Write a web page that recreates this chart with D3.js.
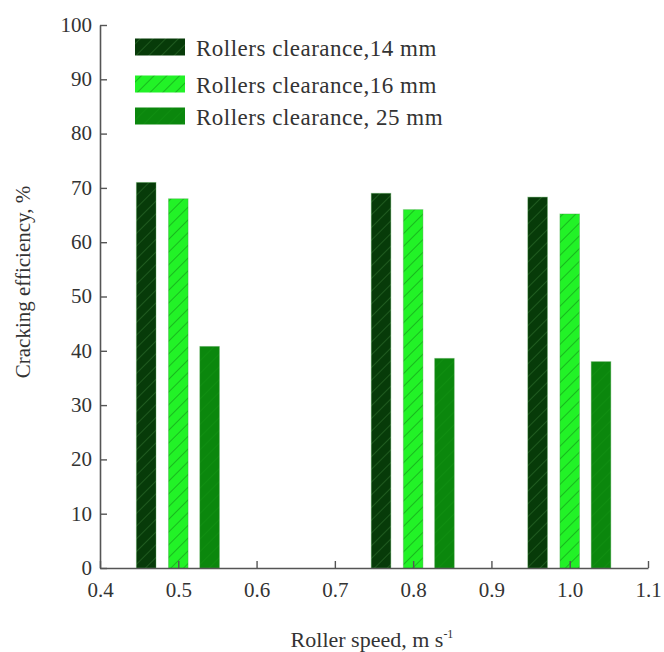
<!DOCTYPE html>
<html>
<head>
<meta charset="utf-8">
<script src="https://cdn.jsdelivr.net/npm/d3@7"></script>
<style>
  body { margin: 0; background: #fff; }
  text { font-family: "Liberation Serif", "DejaVu Serif", serif; fill: #333; }
</style>
</head>
<body>
<div class="chart"></div>
<script>
// data
var speeds = [0.5, 0.8, 1.0];
var seriesNames = ["Rollers clearance,14 mm", "Rollers clearance,16 mm", "Rollers clearance, 25 mm"];
var clearance14 = [71, 69, 68.3];
var clearance16 = [68, 66, 65.2];
var clearance25 = [40.8, 38.6, 38];
var xTicks = [0.4, 0.5, 0.6, 0.7, 0.8, 0.9, 1.0, 1.1];
var yTicks = [0, 10, 20, 30, 40, 50, 60, 70, 80, 90, 100];

var svgWidth = 664;
var svgHeight = 652;

var svg = d3.select(".chart")
  .append("svg")
  .attr("width", svgWidth)
  .attr("height", svgHeight);

// hatch patterns
var defs = svg.append("defs");
function hatch(id, base, line, op) {
  var p = defs.append("pattern")
    .attr("id", id)
    .attr("patternUnits", "userSpaceOnUse")
    .attr("width", 9)
    .attr("height", 9)
    .attr("patternTransform", "rotate(45)");
  p.append("rect").attr("width", 9).attr("height", 9).attr("fill", base);
  p.append("line")
    .attr("x1", 0).attr("y1", 0).attr("x2", 0).attr("y2", 9)
    .attr("stroke", line)
    .attr("stroke-width", 1.6)
    .attr("stroke-opacity", op);
}
hatch("h14", "#073b09", "#2c6a2c", 0.8);
hatch("h16", "#22f227", "#129a16", 0.8);
hatch("h25", "#0b870d", "#169a18", 0.4);

var fills = ["url(#h14)", "url(#h16)", "url(#h25)"];
var offsets = [-0.041, 0, 0.04];
var barW = 0.025;

var x = d3.scaleLinear().domain([0.4, 1.1]).range([100, 648]);
var y = d3.scaleLinear().domain([0, 100]).range([568, 25]);

var allSeries = [clearance14, clearance16, clearance25];
var bars = [];
allSeries.forEach(function (vals, s) {
  vals.forEach(function (v, i) {
    bars.push({ s: s, speed: speeds[i], value: v });
  });
});

svg.append("g")
  .selectAll("rect")
  .data(bars)
  .enter()
  .append("rect")
  .attr("x", d => x(d.speed + offsets[d.s] - barW / 2))
  .attr("width", d => x(barW) - x(0))
  .attr("y", d => y(d.value))
  .attr("height", d => y(0) - y(d.value))
  .attr("fill", d => fills[d.s])
  .attr("stroke", "#3c9a3c")
  .attr("stroke-opacity", 0.35)
  .attr("stroke-width", 1);

// axes
var bottomAxis = d3.axisBottom(x)
  .tickValues(xTicks)
  .tickFormat(d3.format(".1f"))
  .tickSizeInner(-7)
  .tickSizeOuter(0)
  .tickPadding(14);

var leftAxis = d3.axisLeft(y)
  .tickValues(yTicks)
  .tickSizeInner(-7)
  .tickSizeOuter(0)
  .tickPadding(8);

var xAxis = svg.append("g")
  .attr("transform", `translate(0, ${y(0)})`)
  .call(bottomAxis);

var yAxis = svg.append("g")
  .attr("transform", `translate(${x(0.4)}, 0)`)
  .call(leftAxis);

[xAxis, yAxis].forEach(function (a) {
  a.select(".domain").attr("stroke", "#555").attr("stroke-width", 1.6);
  a.selectAll(".tick line").attr("stroke", "#555").attr("stroke-width", 1.4);
  a.selectAll(".tick text")
    .style("font-family", "Liberation Serif, serif")
    .style("font-size", "21px")
    .attr("fill", "#444");
});
yAxis.selectAll(".tick text").attr("dy", "0.3em");

// legend
var legend = svg.append("g");
var legendY = [47, 84, 116];
seriesNames.forEach(function (name, i) {
  legend.append("rect")
    .attr("x", 135)
    .attr("y", legendY[i] - 8.5)
    .attr("width", 50)
    .attr("height", 17)
    .attr("fill", fills[i]);
  legend.append("text")
    .attr("x", 196)
    .attr("y", legendY[i] + 1)
    .attr("dy", "0.35em")
    .style("font-size", "23px")
    .style("letter-spacing", "0.5px")
    .text(name);
});

// axis labels
svg.append("text")
  .attr("transform", "translate(30, 282) rotate(-90)")
  .attr("text-anchor", "middle")
  .style("font-size", "21px")
  .text("Cracking efficiency, %");

var xl = svg.append("text")
  .attr("x", 372)
  .attr("y", 647)
  .attr("text-anchor", "middle")
  .style("font-size", "22px");
xl.append("tspan").text("Roller speed, m s");
xl.append("tspan").attr("dy", -9).style("font-size", "12px").text("-1");
</script>
</body>
</html>
